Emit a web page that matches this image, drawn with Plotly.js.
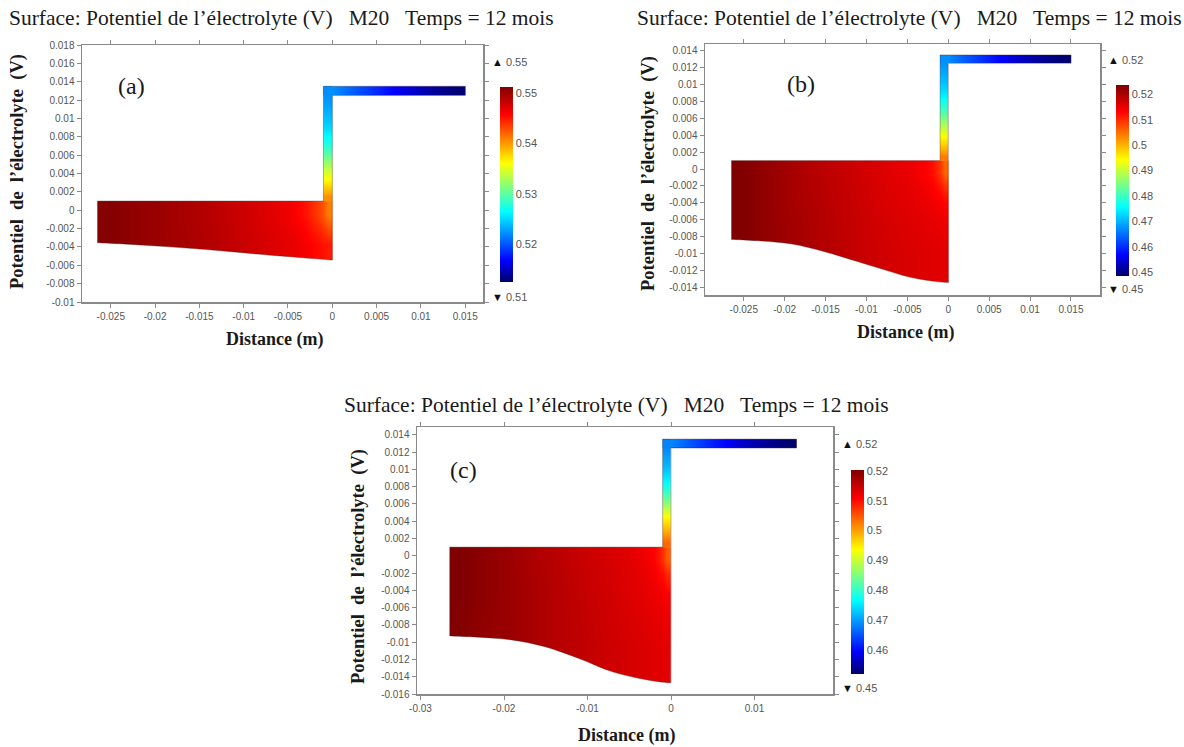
<!DOCTYPE html>
<html><head><meta charset="utf-8">
<script src="https://cdn.plot.ly/plotly-3.0.1.min.js"></script>
<style>html,body{margin:0;padding:0;background:#fff}#chart{width:1184px;height:747px}</style>
</head><body><div id="chart"></div>
<script>
const W = 1184, H = 747;

// ---- Domain geometry (m), common to the three panels ----
const xLeft = -0.0265, xStem = -0.001, xEnd = 0, xBarEnd = 0.015;
const yBlockTop = 0.001, yBarLow = 0.0125, yBarTop = 0.0135;

// Cell edges of the sampled potential field
const blockXEdges = [-0.0265, -0.024, -0.021, -0.018, -0.015, -0.012, -0.009, -0.006, -0.003, -0.001, 0];
const stemYEdges  = [0.001, 0.002, 0.003, 0.004, 0.005, 0.006, 0.007, 0.008, 0.009, 0.010, 0.011, 0.012, 0.0135];
const barXEdges   = [-0.001, 0.001, 0.003, 0.005, 0.007, 0.009, 0.011, 0.013, 0.015];

// ---- Panel (a) ----
const curveXA = [-0.0265, -0.0236, -0.0198, -0.0161, -0.0123, -0.0085, -0.0048, -0.0010, 0];
const curveYA = [-0.00354, -0.00368, -0.0039, -0.00415, -0.00444, -0.00477, -0.00507, -0.00535, -0.00543];
const blockRowEdgesA = [-0.00543, -0.002, 0.001];
const blockA = [
  [0.5510, 0.5505, 0.5500, 0.5495, 0.5489, 0.5482, 0.5475, 0.5467, 0.5456, 0.5448],
  [0.5510, 0.5505, 0.5500, 0.5494, 0.5488, 0.5480, 0.5472, 0.5462, 0.5440, 0.5410]
];
const stemA = [0.5404, 0.5380, 0.5357, 0.5338, 0.5315, 0.5291, 0.5272, 0.5257, 0.5245, 0.5237, 0.5229, 0.5222];
const barA  = [0.5222, 0.5206, 0.5191, 0.5175, 0.5160, 0.5148, 0.5137, 0.5129];
const cRangeA = [0.5125, 0.5512];
const cTicksA = [0.52, 0.53, 0.54, 0.55];
const xTicksA = [-0.025, -0.02, -0.015, -0.01, -0.005, 0, 0.005, 0.01, 0.015];
const yTicksA = [0.018, 0.016, 0.014, 0.012, 0.01, 0.008, 0.006, 0.004, 0.002, 0, -0.002, -0.004, -0.006, -0.008, -0.01];

// ---- Panel (b) ----
const curveXB = [-0.0265, -0.0232, -0.0191, -0.0151, -0.0110, -0.0077, -0.0049, -0.0020, 0];
const curveYB = [-0.00832, -0.00849, -0.00888, -0.00979, -0.01097, -0.01195, -0.01275, -0.01325, -0.01345];
const blockRowEdgesB = [-0.01345, -0.006, -0.002, 0.001];
const blockB = [
  [0.5237, 0.5222, 0.5211, 0.5199, 0.5188, 0.5177, 0.5169, 0.5162, 0.5158, 0.5154],
  [0.5237, 0.5222, 0.5207, 0.5196, 0.5184, 0.5173, 0.5162, 0.5154, 0.5143, 0.5132],
  [0.5237, 0.5222, 0.5207, 0.5192, 0.5181, 0.5169, 0.5158, 0.5147, 0.5124, 0.5057]
];
const stemB = [0.5041, 0.4996, 0.4959, 0.4914, 0.4869, 0.4823, 0.4786, 0.4752, 0.4726, 0.4707, 0.4692, 0.4673];
const barB  = [0.4673, 0.4635, 0.4605, 0.4575, 0.4545, 0.4523, 0.4504, 0.4489];
const cRangeB = [0.4485, 0.5237];
const cTicksB = [0.45, 0.46, 0.47, 0.48, 0.49, 0.5, 0.51, 0.52];
const xTicksB = [-0.025, -0.02, -0.015, -0.01, -0.005, 0, 0.005, 0.01, 0.015];
const yTicksB = [0.014, 0.012, 0.01, 0.008, 0.006, 0.004, 0.002, 0, -0.002, -0.004, -0.006, -0.008, -0.01, -0.012, -0.014];

// ---- Panel (c) ----
const curveXC = [-0.0265, -0.0231, -0.0191, -0.0151, -0.0111, -0.0071, -0.0039, -0.0015, 0];
const curveYC = [-0.00928, -0.00943, -0.00974, -0.01052, -0.01186, -0.01341, -0.01418, -0.01457, -0.01470];
const blockRowEdgesC = [-0.0147, -0.007, -0.002, 0.001];
const blockC = [
  [0.5200, 0.5189, 0.5183, 0.5172, 0.5162, 0.5155, 0.5145, 0.5138, 0.5131, 0.5128],
  [0.5203, 0.5193, 0.5183, 0.5172, 0.5162, 0.5152, 0.5142, 0.5131, 0.5121, 0.5111],
  [0.5203, 0.5193, 0.5183, 0.5169, 0.5159, 0.5148, 0.5138, 0.5128, 0.5107, 0.5046]
];
const stemC = [0.5039, 0.5005, 0.4971, 0.4937, 0.4889, 0.4841, 0.4800, 0.4766, 0.4739, 0.4718, 0.4704, 0.4684];
const barC  = [0.4684, 0.4657, 0.4629, 0.4602, 0.4575, 0.4554, 0.4537, 0.4523];
const cRangeC = [0.452, 0.5203];
const cTicksC = [0.46, 0.47, 0.48, 0.49, 0.5, 0.51, 0.52];
const xTicksC = [-0.03, -0.02, -0.01, 0, 0.01];
const yTicksC = [0.014, 0.012, 0.01, 0.008, 0.006, 0.004, 0.002, 0, -0.002, -0.004, -0.006, -0.008, -0.01, -0.012, -0.014, -0.016];

const maxLabels = ['0.55', '0.52', '0.52'];
const minLabels = ['0.51', '0.45', '0.45'];
const titleText = 'Surface: Potentiel de l\u2019électrolyte (V)\u00a0\u00a0 M20\u00a0\u00a0 Temps = 12 mois';
const yTitleText = 'Potentiel\u00a0 de\u00a0 l\u2019électrolyte\u00a0 (V)';
const xTitleText = 'Distance (m)';
const panelLabels = ['(a)', '(b)', '(c)'];

// ---- Colour scale (rainbow) ----
const rainbow = [[0, 'rgb(0,0,105)'], [0.11, 'rgb(0,0,255)'], [0.36, 'rgb(0,255,255)'],
                 [0.61, 'rgb(255,255,0)'], [0.86, 'rgb(255,0,0)'], [1, 'rgb(128,0,0)']];

const px = v => v / W, py = v => 1 - v / H;

const panels = [
  {xa: 'x', ya: 'y', ca: 'coloraxis', curveX: curveXA, curveY: curveYA, rows: blockRowEdgesA, block: blockA, stem: stemA, bar: barA},
  {xa: 'x2', ya: 'y2', ca: 'coloraxis2', curveX: curveXB, curveY: curveYB, rows: blockRowEdgesB, block: blockB, stem: stemB, bar: barB},
  {xa: 'x3', ya: 'y3', ca: 'coloraxis3', curveX: curveXC, curveY: curveYC, rows: blockRowEdgesC, block: blockC, stem: stemC, bar: barC}
];

const edge = {width: 0.8, color: 'rgba(70,30,30,0.45)'};
const traces = [];
panels.forEach(p => {
  const base = {xaxis: p.xa, yaxis: p.ya, hoverinfo: 'skip', showlegend: false};
  const common = Object.assign({type: 'heatmap', zsmooth: 'best', coloraxis: p.ca}, base);
  traces.push(Object.assign({x: blockXEdges, y: p.rows, z: p.block}, common));
  traces.push(Object.assign({x: [xStem, xEnd], y: stemYEdges, z: p.stem.map(v => [v])}, common));
  traces.push(Object.assign({x: barXEdges, y: [yBarLow, yBarTop], z: [p.bar]}, common));
  // white mask under the deformed lower boundary
  const last = p.curveY[p.curveY.length - 1];
  const yLow = Math.min(...p.curveY) - 0.0004;
  const mx = [xLeft - 0.0003].concat(p.curveX, [xEnd + 0.0002]);
  const my = [p.curveY[0]].concat(p.curveY, [last]);
  traces.push(Object.assign({type: 'scatter', mode: 'lines', x: mx, y: mx.map(() => yLow),
               line: {width: 0, color: 'white'}}, base));
  traces.push(Object.assign({type: 'scatter', mode: 'lines', x: mx, y: my, fill: 'tonexty', fillcolor: 'white',
               line: {width: 0, color: 'white', shape: 'spline', smoothing: 1}}, base));
  // domain outline: straight edges
  traces.push(Object.assign({type: 'scatter', mode: 'lines',
               x: [xEnd, xEnd, xBarEnd, xBarEnd, xStem, xStem, xLeft, xLeft],
               y: [last, yBarLow, yBarLow, yBarTop, yBarTop, yBlockTop, yBlockTop, p.curveY[0]],
               line: edge}, base));
  // domain outline: deformed lower boundary
  traces.push(Object.assign({type: 'scatter', mode: 'lines', x: p.curveX, y: p.curveY,
               line: Object.assign({shape: 'spline', smoothing: 1}, edge)}, base));
});

const tickFont = {family: 'Liberation Sans, Arial, sans-serif', size: 10, color: '#555'};
function axis(domain, range, ticks, anchor) {
  return {domain: domain, range: range, anchor: anchor, tickmode: 'array', tickvals: ticks,
          ticktext: ticks.map(v => String(v)), ticks: 'outside', ticklen: 4, tickcolor: '#8a8a8a',
          showline: true, linecolor: '#8a8a8a', linewidth: 1.5, mirror: 'ticks', showgrid: false,
          zeroline: false, tickfont: tickFont, fixedrange: true};
}
function cax(range, ticks, left, top, len) {
  return {cmin: range[0], cmax: range[1], colorscale: rainbow, showscale: true,
          colorbar: {x: px(left), xanchor: 'left', xref: 'paper', y: py(top), yanchor: 'top', yref: 'paper',
                     lenmode: 'pixels', len: len, thickness: 13, xpad: 0, ypad: 0, outlinewidth: 0,
                     tickmode: 'array', tickvals: ticks, ticktext: ticks.map(v => String(v)), ticks: '',
                     tickfont: {family: 'Liberation Sans, Arial, sans-serif', size: 11, color: '#555'}}};
}

const serif = 'Liberation Serif, Times New Roman, serif';
const ann = [];
function txt(text, x, y, size, opts) {
  ann.push(Object.assign({text: text, x: px(x), y: py(y), xref: 'paper', yref: 'paper', showarrow: false,
           xanchor: 'center', yanchor: 'middle', font: {family: serif, size: size, color: '#1a1a1a'}}, opts || {}));
}
// titles
txt(titleText, 281, 18, 21.5);
txt(titleText, 910, 18, 21.5);
txt(titleText, 616, 405, 21.5);
// y titles
txt('<b>' + yTitleText + '</b>', 18, 172, 18.5, {textangle: -90});
txt('<b>' + yTitleText + '</b>', 648, 174, 18.5, {textangle: -90});
txt('<b>' + yTitleText + '</b>', 358, 567, 18.5, {textangle: -90});
// x titles
txt('<b>' + xTitleText + '</b>', 274, 339, 18);
txt('<b>' + xTitleText + '</b>', 905, 332, 18);
txt('<b>' + xTitleText + '</b>', 626, 735, 18);
// panel labels
txt(panelLabels[0], 131, 86, 24);
txt(panelLabels[1], 801, 84, 24);
txt(panelLabels[2], 463, 470, 24);
// max / min markers
const sm = {xanchor: 'left', font: {family: 'Liberation Sans, Arial, sans-serif', size: 11, color: '#555'}};
[[490, 62, 297, 0], [1106, 60, 289, 1], [840, 444, 688, 2]].forEach(d => {
  txt('<span style="color:#111">\u25B2</span> ' + maxLabels[d[3]], d[0], d[1], 11, sm);
  txt('<span style="color:#111">\u25BC</span> ' + minLabels[d[3]], d[0], d[2], 11, sm);
});

const layout = {
  width: W, height: H, margin: {l: 0, r: 0, t: 0, b: 0}, paper_bgcolor: 'white', plot_bgcolor: 'white',
  showlegend: false,
  xaxis:  axis([px(82), px(483)], [-0.02825, 0.01701], xTicksA, 'y'),
  yaxis:  axis([py(302), py(45)], [-0.01, 0.018], yTicksA, 'x'),
  xaxis2: axis([px(705), px(1100)], [-0.02974, 0.01855], xTicksB, 'y2'),
  yaxis2: axis([py(295), py(44)], [-0.0149, 0.0148], yTicksB, 'x2'),
  xaxis3: axis([px(417), px(833)], [-0.03042, 0.0194], xTicksC, 'y3'),
  yaxis3: axis([py(694), py(427)], [-0.016, 0.0149], yTicksC, 'x3'),
  coloraxis:  cax(cRangeA, cTicksA, 500, 87, 195),
  coloraxis2: cax(cRangeB, cTicksB, 1116, 85, 191),
  coloraxis3: cax(cRangeC, cTicksC, 851, 470, 204),
  annotations: ann
};

Plotly.newPlot('chart', traces, layout, {displayModeBar: false, staticPlot: true});
</script></body></html>
